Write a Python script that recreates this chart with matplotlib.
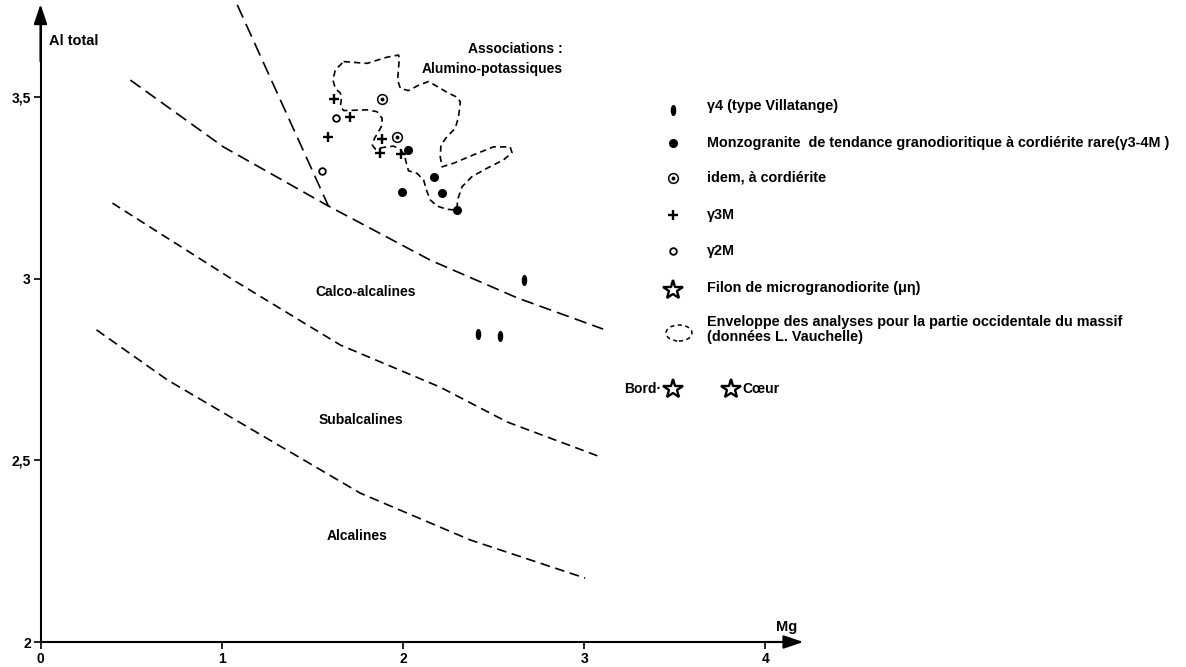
import numpy as np
import matplotlib
matplotlib.use('Agg')
import matplotlib.pyplot as plt
from matplotlib.patches import Ellipse

plt.rcParams['font.family'] = ['Liberation Sans', 'DejaVu Sans']
plt.rcParams['lines.scale_dashes'] = False

# ---------------- data (Mg, Al total) ----------------
g4_mg = [2.666, 2.412, 2.537]
g4_al = [2.997, 2.848, 2.844]

g34m_mg = [2.026, 2.172, 1.993, 2.217, 2.300]
g34m_al = [3.355, 3.282, 3.240, 3.236, 3.190]

cord_mg = [1.883, 1.966]
cord_al = [3.496, 3.391]

g3m_mg = [1.621, 1.708, 1.588, 1.883, 1.874, 1.988]
g3m_al = [3.496, 3.445, 3.392, 3.385, 3.346, 3.343]

g2m_mg = [1.629, 1.552]
g2m_al = [3.444, 3.298]

filon_mg = [3.491, 3.811]
filon_al = [2.697, 2.697]
filon_lbl = ['Bord·', 'Cœur']

# envelope of western part analyses (L. Vauchelle)
env_mg = [1.673, 1.802, 1.912, 1.976, 1.980, 1.976, 1.971, 1.986, 2.031, 2.087,
          2.142, 2.197, 2.252, 2.298, 2.317, 2.307, 2.289, 2.243, 2.210, 2.206,
          2.216, 2.280, 2.390, 2.500, 2.592, 2.602, 2.555, 2.464, 2.381, 2.326,
          2.302, 2.298, 2.243, 2.188, 2.151, 2.133, 2.114, 2.078, 2.031, 2.019,
          2.008, 1.986, 1.949, 1.912, 1.875, 1.848, 1.831, 1.844, 1.866, 1.885,
          1.885, 1.857, 1.802, 1.673, 1.655, 1.660, 1.655, 1.627, 1.614, 1.627, 1.673]
env_al = [3.599, 3.594, 3.611, 3.617, 3.608, 3.580, 3.548, 3.525, 3.519, 3.534,
          3.544, 3.528, 3.512, 3.501, 3.488, 3.447, 3.415, 3.392, 3.369, 3.337,
          3.309, 3.319, 3.342, 3.364, 3.364, 3.348, 3.328, 3.305, 3.282, 3.254,
          3.218, 3.190, 3.192, 3.201, 3.218, 3.241, 3.273, 3.291, 3.298, 3.319,
          3.342, 3.357, 3.366, 3.364, 3.361, 3.358, 3.369, 3.388, 3.406, 3.424,
          3.443, 3.461, 3.466, 3.464, 3.475, 3.493, 3.512, 3.525, 3.548, 3.576, 3.599]

# boundary lines
steep_mg = [1.086, 1.589]
steep_al = [3.755, 3.201]
upper_mg = [0.496, 1.009, 1.589, 2.151, 2.631, 3.105]
upper_al = [3.548, 3.364, 3.201, 3.052, 2.948, 2.862]
middle_mg = [0.397, 1.065, 1.655, 2.206, 2.576, 3.089]
middle_al = [3.209, 2.997, 2.818, 2.702, 2.606, 2.510]
lower_mg = [0.309, 0.700, 1.765, 2.372, 3.006]
lower_al = [2.860, 2.722, 2.410, 2.281, 2.176]

xticks = [0, 1, 2, 3, 4]
xticklabels = ['0', '1', '2', '3', '4']
yticks = [2, 2.5, 3, 3.5]
yticklabels = ['2', '2,5', '3', '3,5']

# ---------------- figure ----------------
W, H = 1186, 667
fig = plt.figure(figsize=(W / 100, H / 100), dpi=100)
ax = fig.add_axes([0, 0, 1, 1])
X0, SX, Y0, SY = 40.5, 181.2, 642, 363
ax.set_xlim(-X0 / SX, (W - X0) / SX)
ax.set_ylim(2 - (H - Y0) / SY, 2 + Y0 / SY)

for s in ['top', 'right']:
    ax.spines[s].set_visible(False)
ax.spines['left'].set_position(('data', 0))
ax.spines['bottom'].set_position(('data', 2))
ax.spines['left'].set_bounds(2, 3.70)
ax.spines['bottom'].set_bounds(0, 4.12)
for s in ['left', 'bottom']:
    ax.spines[s].set_linewidth(1.5)

ax.set_xticks(xticks)
ax.set_xticklabels(xticklabels)
ax.set_yticks(yticks)
ax.set_yticklabels(yticklabels)
ax.tick_params(axis='both', direction='out', length=5, width=1.2, labelsize=10, pad=2)
for lbl in ax.get_xticklabels() + ax.get_yticklabels():
    lbl.set_fontweight('bold')

arr = dict(arrowstyle='-|>,head_length=0.8,head_width=0.27', color='k', lw=1.5,
           mutation_scale=15, shrinkA=0, shrinkB=0)
ax.annotate('', xy=(0, 3.757), xytext=(0, 3.6), arrowprops=arr)
ax.annotate('', xy=(4.21, 2), xytext=(4.0, 2), arrowprops=arr)

ax.text(0.045, 3.655, 'Al total', fontsize=10.5, fontweight='bold', ha='left', va='center')
ax.text(4.12, 2.04, 'Mg', fontsize=10.5, fontweight='bold', ha='center', va='center')

# boundary lines
ax.plot(steep_mg, steep_al, color='k', lw=1.2, dashes=(10, 5))
ax.plot(upper_mg, upper_al, color='k', lw=1.2, dashes=(9, 4.5))
ax.plot(middle_mg, middle_al, color='k', lw=1.2, dashes=(6.5, 4))
ax.plot(lower_mg, lower_al, color='k', lw=1.2, dashes=(7, 4))

# envelope
ax.plot(env_mg, env_al, color='k', lw=1.2, dashes=(4.5, 3))

# region labels
lab = dict(fontsize=10, fontweight='bold')
ax.text(1.796, 2.965, 'Calco-alcalines', ha='center', va='center', **lab)
ax.text(1.769, 2.612, 'Subalcalines', ha='center', va='center', **lab)
ax.text(1.747, 2.292, 'Alcalines', ha='center', va='center', **lab)
ax.text(2.884, 3.634, 'Associations :', ha='right', va='center', **lab)
ax.text(2.884, 3.579, 'Alumino-potassiques', ha='right', va='center', **lab)

# markers
t = np.linspace(0, 2 * np.pi, 40)
ell = list(zip(0.42 * np.cos(t), np.sin(t)))
ax.plot(g4_mg, g4_al, ls='none', marker=ell, ms=7, color='k', zorder=5)
ax.plot(g34m_mg, g34m_al, ls='none', marker='o', ms=5.5, color='k', zorder=5)
ax.plot(cord_mg, cord_al, ls='none', marker='o', ms=7, mfc='white', mec='k', mew=1.1, zorder=5)
ax.plot(cord_mg, cord_al, ls='none', marker='o', ms=1.8, color='k', zorder=6)
ax.plot(g3m_mg, g3m_al, ls='none', marker='+', ms=7.5, mew=1.7, color='k', zorder=5)
ax.plot(g2m_mg, g2m_al, ls='none', marker='o', ms=4.8, mfc='white', mec='k', mew=1.3, zorder=5)
ax.plot(filon_mg, filon_al, ls='none', marker='*', ms=15, mfc='white', mec='k', mew=1.7, zorder=5)
ax.text(filon_mg[0] - 0.065, filon_al[0], filon_lbl[0], ha='right', va='center', **lab)
ax.text(filon_mg[1] + 0.065, filon_al[1], filon_lbl[1], ha='left', va='center', **lab)

# legend (figure pixel coordinates)
def fp(x, y):
    return x / W, 1 - y / H

tf = fig.transFigure
mx, tx = 673, 707
lt = dict(fontsize=10.4, fontweight='bold', ha='left', va='center', transform=tf)
mk = dict(ls='none', transform=tf, clip_on=False)

ax.plot(*fp(mx, 110), marker=ell, ms=7, color='k', **mk)
ax.text(*fp(tx, 106), 'γ4 (type Villatange)', **lt)
ax.plot(*fp(mx, 143), marker='o', ms=5.5, color='k', **mk)
ax.text(*fp(tx, 143), 'Monzogranite  de tendance granodioritique à cordiérite rare(γ3-4M )', **lt)
ax.plot(*fp(mx, 178), marker='o', ms=7, mfc='white', mec='k', mew=1.1, **mk)
ax.plot(*fp(mx, 178), marker='o', ms=1.8, color='k', **mk)
ax.text(*fp(tx, 178), 'idem, à cordiérite', **lt)
ax.plot(*fp(mx, 215), marker='+', ms=7.5, mew=1.7, color='k', **mk)
ax.text(*fp(tx, 215), 'γ3M', **lt)
ax.plot(*fp(mx, 251), marker='o', ms=4.8, mfc='white', mec='k', mew=1.3, **mk)
ax.text(*fp(tx, 251), 'γ2M', **lt)
ax.plot(*fp(mx, 290), marker='*', ms=15, mfc='white', mec='k', mew=1.7, **mk)
ax.text(*fp(tx, 288), 'Filon de microgranodiorite (μη)', **lt)
cx, cy = fp(679, 333)
ax.add_patch(Ellipse((cx, cy), 26 / W, 16 / H, transform=tf, fill=False,
                     ec='k', lw=1.1, ls=(0, (3, 2.5)), clip_on=False))
ax.text(*fp(tx, 322), 'Enveloppe des analyses pour la partie occidentale du massif', **lt)
ax.text(*fp(tx, 337), '(données L. Vauchelle)', **lt)

fig.savefig('out.png', dpi=100, facecolor='white')
